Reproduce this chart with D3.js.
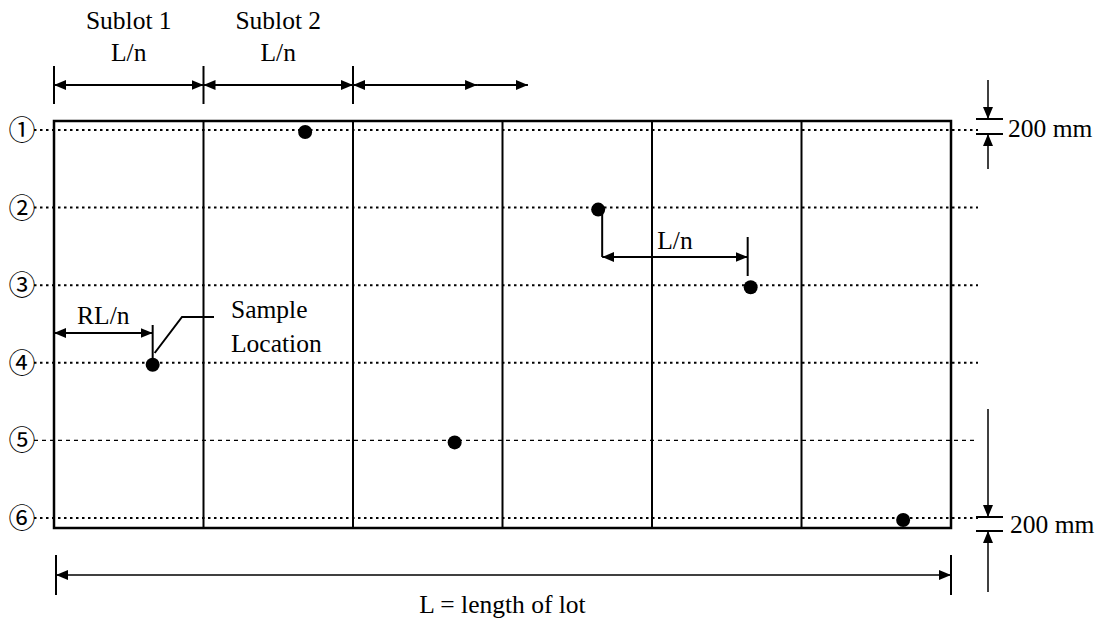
<!DOCTYPE html>
<html><head><meta charset="utf-8">
<script src="https://cdn.jsdelivr.net/npm/d3@7"></script>
<style>body{margin:0;background:#fff}svg{display:block}
text.s{font-family:"Liberation Serif","DejaVu Serif",serif}
text.c{font-family:"Noto Sans CJK JP","Noto Sans CJK SC",sans-serif}
</style>
</head><body>
<svg id="c" width="1104" height="626"></svg>
<script>
// ---- data ----
const sublots = [1, 2, 3, 4, 5, 6];                 // sublots of the lot
const rowLabels = ["①", "②", "③", "④", "⑤", "⑥"]; // sampling lines
const sampleRow = [1, 2, 3, 4, 5, 6];
const samplePos = [1.68, 3.64, 4.66, 0.66, 2.68, 5.68]; // position along lot (sublot units)
const headerLabels = ["Sublot 1", "Sublot 2"];
const headerSub = ["L/n", "L/n"];

const svg = d3.select("#c");
const x = d3.scaleLinear().domain([0, 6]).range([54, 951]);
const y = d3.scaleLinear().domain([1, 6]).range([130, 518]);
const rectTop = 121, rectBot = 528;
const fs = 25.5;

const defs = svg.append("defs");
defs.append("marker").attr("id", "ah").attr("viewBox", "0 0 12 10")
  .attr("refX", 12).attr("refY", 5).attr("markerWidth", 12).attr("markerHeight", 10)
  .attr("markerUnits", "userSpaceOnUse").attr("orient", "auto-start-reverse")
  .append("path").attr("d", "M0,0L12,5L0,10Z").attr("fill", "#000");

function line(x1, y1, x2, y2, w, opts) {
  const l = svg.append("line").attr("x1", x1).attr("y1", y1).attr("x2", x2).attr("y2", y2)
    .attr("stroke", "#000").attr("stroke-width", w);
  if (opts && opts.start) l.attr("marker-start", "url(#ah)");
  if (opts && opts.end) l.attr("marker-end", "url(#ah)");
  return l;
}
function text(t, tx, ty, anchor) {
  return svg.append("text").attr("class", "s").attr("x", tx).attr("y", ty)
    .attr("font-size", fs).attr("text-anchor", anchor || "middle").attr("fill", "#000").text(t);
}

// dotted sampling lines
svg.append("g").selectAll("line").data(sampleRow).join("line")
  .attr("x1", 34).attr("x2", 978).attr("y1", d => y(d)).attr("y2", d => y(d))
  .attr("stroke", "#000")
  .attr("stroke-width", d => d === 5 ? 1.2 : 2)
  .attr("stroke-dasharray", d => d === 5 ? "4,4" : "2.5,3.5");

// row labels
svg.append("g").selectAll("text").data(rowLabels).join("text")
  .attr("class", "c").attr("x", 22).attr("y", (d, i) => y(sampleRow[i]) + 10)
  .attr("text-anchor", "middle").attr("font-size", 27).attr("fill", "#000").text(d => d);

// lot rectangle and sublot dividers
svg.append("rect").attr("x", x(0)).attr("y", rectTop).attr("width", x(6) - x(0)).attr("height", rectBot - rectTop)
  .attr("fill", "none").attr("stroke", "#000").attr("stroke-width", 2.5);
svg.append("g").selectAll("line").data(sublots.slice(0, 5)).join("line")
  .attr("x1", d => x(d)).attr("x2", d => x(d)).attr("y1", rectTop).attr("y2", rectBot)
  .attr("stroke", "#000").attr("stroke-width", 2);

// sample dots
svg.append("g").selectAll("circle").data(samplePos).join("circle")
  .attr("cx", d => x(d)).attr("cy", (d, i) => y(sampleRow[i]) + 2).attr("r", 7).attr("fill", "#000");

// header arrows
const hy = 85;
[0, 1, 2].forEach(i => line(x(i), 66, x(i), 104, 2));
line(x(0), hy, x(1), hy, 2, {start: 1, end: 1});
line(x(1), hy, x(2), hy, 2, {start: 1, end: 1});
line(x(2), hy, x(2.83), hy, 2, {start: 1, end: 1});
line(x(2.83), hy, x(3.17), hy, 2, {end: 1});
headerLabels.forEach((t, i) => {
  text(t, x(i + 0.5), 29);
  text(headerSub[i], x(i + 0.5), 61);
});

// RL/n annotation
const r4 = samplePos[3];
line(x(0), 333, x(r4), 333, 2, {start: 1, end: 1});
line(x(r4), 325, x(r4), 358, 2);
text("RL/n", (x(0) + x(r4)) / 2, 324);
svg.append("path").attr("d", `M${x(r4) + 2},353L182,317L214,317`).attr("fill", "none")
  .attr("stroke", "#000").attr("stroke-width", 2);
text("Sample", 231, 318, "start");
text("Location", 231, 352, "start");

// L/n between samples
const a = samplePos[1];
line(x(a) + 4, y(2) + 2, x(a) + 4, 257, 2);
line(x(a) + 4, 257, x(a + 1), 257, 2, {start: 1, end: 1});
line(x(a + 1), 237, x(a + 1), 276, 2);
text("L/n", (x(a) + x(a + 1)) / 2 + 2, 249);

// 200 mm top
const rx = 988;
line(976, 119, 1003, 119, 2);
line(976, 134, 1003, 134, 2);
line(rx, 80, rx, 119, 1.5, {end: 1});
line(rx, 169, rx, 134, 1.5, {end: 1});
text("200 mm", 1008, 137, "start");
// 200 mm bottom
line(976, 517, 1003, 517, 2);
line(976, 531, 1003, 531, 2);
line(rx, 409, rx, 517, 1.5, {end: 1});
line(rx, 592, rx, 531, 1.5, {end: 1});
text("200 mm", 1010, 533, "start");

// overall length
line(x(0) + 2, 575, x(6), 575, 1.5, {start: 1, end: 1});
line(x(0) + 2, 555, x(0) + 2, 595, 2);
line(x(6), 555, x(6), 595, 2);
text("L = length of lot", (x(0) + x(6)) / 2, 613);
</script>
</body></html>
